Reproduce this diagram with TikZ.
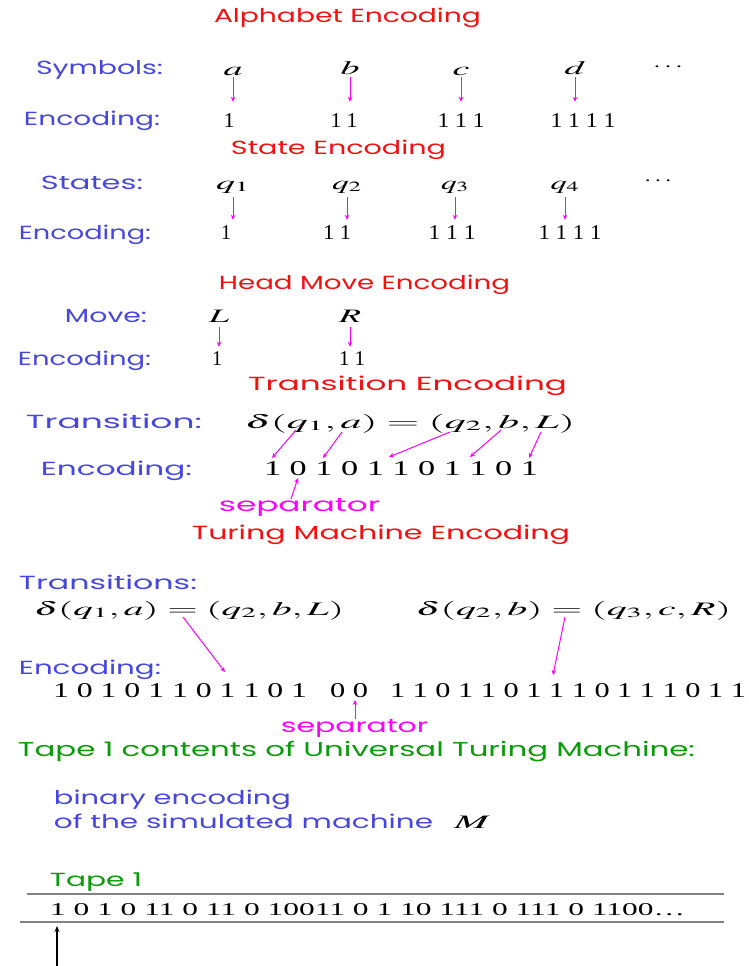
\documentclass[tikz,border=0pt]{standalone}
\usepackage{mathptmx}
\usepackage{fontspec}
\setmainfont{Liberation Serif}
\newfontfamily\labfont{Poppins}
\usepackage{graphicx}
\usetikzlibrary{arrows.meta}
\definecolor{labblue}{RGB}{70,70,225}
\definecolor{ttlred}{RGB}{245,15,15}
\definecolor{mag}{RGB}{255,0,255}
\definecolor{grn}{RGB}{10,155,10}
\definecolor{tapegray}{RGB}{130,130,130}
\newcommand\fitw[2]{\resizebox{#1pt}{\height}{#2}}
\tikzset{
  lab/.style={font=\labfont\fontsize{19}{19}\selectfont, text=labblue, inner sep=0pt, text height=14pt, text depth=0pt},
  ttl/.style={lab, text=ttlred},
  sep/.style={lab, text=mag, text height=10pt},
  glab/.style={lab, text=grn, font=\labfont\fontsize{20}{20}\selectfont},
  mth/.style={font=\fontsize{19}{19}\selectfont, inner sep=0pt, text height=14pt, text depth=0pt},
  bits/.style={font=\fontsize{21}{21}\selectfont, inner sep=0pt, text height=14pt, text depth=0pt},
  tapetxt/.style={font=\fontsize{18}{18}\selectfont, inner sep=0pt, text height=12pt, text depth=0pt},
  marr/.style={draw=mag, line width=1pt, -{Stealth[length=5pt,width=4.5pt]}},
  karr/.style={draw=black, line width=1.1pt, -{Stealth[length=6pt,width=5pt]}},
  tline/.style={draw=tapegray, line width=1.6pt}
}
\begin{document}
\begin{tikzpicture}[x=1pt,y=-1pt]
\useasboundingbox (0,0) rectangle (749,966);
% ---- Alphabet encoding
\node[ttl] (t1) at (347.5,16) {\fitw{267}{Alphabet Encoding}};
\node[lab] (sym) at (99.5,68) {\fitw{127}{Symbols:}};
\node[lab] (enc1) at (92,118) {\fitw{136}{Encoding:}};
\node[mth] (sa) at (233,68) {\fitw{19}{$a$}};
\node[mth] (sb) at (350,68) {\fitw{19}{$b$}};
\node[mth] (sc) at (461,68) {\fitw{17}{$c$}};
\node[mth] (sd) at (575,68) {\fitw{21}{$d$}};
\node[mth] (sdots) at (668,65) {\fitw{30}{$\cdots$}};
\node[bits] (ea) at (229,120) {\fitw{11}{1}};
\node[bits] (eb) at (344,120) {\fitw{27}{1 1}};
\node[bits] (ec) at (461,120) {\fitw{47}{1 1 1}};
\node[bits] (ed) at (583,120) {\fitw{65}{1 1 1 1}};
\foreach \s/\e in {sa/ea,sb/eb,sc/ec,sd/ed}
  \draw[marr, shorten <=2pt, shorten >=11pt] (\s.south) -- (\s.south |- \e.north);
% ---- State encoding
\node[ttl] (t2) at (338.5,147) {\fitw{215}{State Encoding}};
\node[lab] (sts) at (92,182) {\fitw{102}{States:}};
\node[lab] (enc2) at (85,232) {\fitw{132}{Encoding:}};
\node[mth] (q1) at (233,182) {\fitw{34}{$q_1$}};
\node[mth] (q2) at (347,182) {\fitw{30}{$q_2$}};
\node[mth] (q3) at (455,182) {\fitw{28}{$q_3$}};
\node[mth] (q4) at (565,182) {\fitw{29}{$q_4$}};
\node[mth] (qdots) at (658,178) {\fitw{28}{$\cdots$}};
\node[bits] (f1) at (226,232) {\fitw{10}{1}};
\node[bits] (f2) at (337,232) {\fitw{28}{1 1}};
\node[bits] (f3) at (452,232) {\fitw{47}{1 1 1}};
\node[bits] (f4) at (570,232) {\fitw{63}{1 1 1 1}};
\foreach \s/\e in {q1/f1,q2/f2,q3/f3,q4/f4}
  \draw[marr, shorten <=8pt, shorten >=5pt] (\s.south) -- (\s.south |- \e.north);
% ---- Head move encoding
\node[ttl] (t3) at (364.5,282) {\fitw{291}{Head Move Encoding}};
\node[lab] (mv) at (106,315) {\fitw{82}{Move:}};
\node[lab] (enc3) at (84.5,358) {\fitw{133}{Encoding:}};
\node[mth] (mL) at (219,315) {\fitw{20}{$L$}};
\node[mth] (mR) at (350,315) {\fitw{22}{$R$}};
\node[bits] (gL) at (217,358) {\fitw{10}{1}};
\node[bits] (gR) at (352,358) {\fitw{26}{1 1}};
\foreach \s/\e in {mL/gL,mR/gR}
  \draw[marr, shorten <=5pt, shorten >=4pt] (\s.south) -- (\s.south |- \e.north);
% ---- Transition encoding
\node[ttl] (t4) at (407.5,383) {\fitw{319}{Transition Encoding}};
\node[lab] (tr) at (114,421) {\fitw{176}{Transition:}};
\node[mth] (tf) at (410,421) {\fitw{330}{$\delta(q_1,a)=(q_2,b,L)$}};
\node[lab] (enc4) at (116.5,468) {\fitw{151}{Encoding:}};
\node[bits] (tb) at (401,468) {\fitw{274}{1 0 1 0 1 1 0 1 1 0 1}};
\node[sep] (sep1) at (299.5,506) {\fitw{161}{separator}};
\coordinate (p1s) at (296,430); \coordinate (p1e) at (272,458);
\coordinate (p2s) at (342,432); \coordinate (p2e) at (323,458);
\coordinate (p3s) at (450,432); \coordinate (p3e) at (389,457);
\coordinate (p4s) at (501,430); \coordinate (p4e) at (470,457);
\coordinate (p5s) at (541,432); \coordinate (p5e) at (529,458);
\foreach \i in {1,...,5} \draw[marr] (p\i s) -- (p\i e);
\coordinate (s1b) at (291,499);
\coordinate (s1t) at (298,478);
\draw[marr] (s1b) -- (s1t);
% ---- Turing machine encoding
\node[ttl] (t5) at (381,532) {\fitw{378}{Turing Machine Encoding}};
\node[lab] (trs) at (108,582) {\fitw{178}{Transitions:}};
\node[mth] (tf1) at (189,608) {\fitw{310}{$\delta(q_1,a)=(q_2,b,L)$}};
\node[mth] (tf2) at (573.5,608) {\fitw{315}{$\delta(q_2,b)=(q_3,c,R)$}};
\node[lab] (enc5) at (90,667) {\fitw{142}{Encoding:}};
\node[bits] (g1) at (180,690) {\fitw{254}{1 0 1 0 1 1 0 1 1 0 1}};
\node[bits] (g2) at (349,690) {\fitw{38}{0 0}};
\node[bits] (g3) at (568,690) {\fitw{356}{1 1 0 1 1 0 1 1 1 0 1 1 1 0 1 1}};
\coordinate (u1s) at (183,617); \coordinate (u1e) at (225,672);
\coordinate (u2s) at (565,617); \coordinate (u2e) at (553,675);
\draw[marr] (u1s) -- (u1e);
\draw[marr] (u2s) -- (u2e);
\node[sep] (sep2) at (354.5,727) {\fitw{147}{separator}};
\coordinate (s2b) at (355,719);
\coordinate (s2t) at (355,700);
\draw[marr] (s2b) -- (s2t);
% ---- Tape 1
\node[glab] (tc) at (356.5,749) {\fitw{677}{Tape 1 contents of Universal Turing Machine:}};
\node[lab] (be) at (172.5,797) {\fitw{237}{binary encoding}};
\node[lab] (sm) at (243.5,821) {\fitw{379}{of the simulated machine}};
\node[mth] (mM) at (472,821) {\fitw{36}{$M$}};
\node[glab, font=\labfont\fontsize{19}{19}\selectfont] (tp) at (96,879) {\fitw{92}{Tape 1}};
\coordinate (l1a) at (27,894); \coordinate (l1b) at (724,894);
\coordinate (l2a) at (20,922); \coordinate (l2b) at (724,922);
\draw[tline] (l1a) -- (l1b);
\draw[tline] (l2a) -- (l2b);
\node[tapetxt] (tape) at (367.5,909) {\fitw{635}{1 0 1 0 11 0 11 0 10011 0 1 10 111 0 111 0 1100\dots}};
\coordinate (hb) at (57,966); \coordinate (ht) at (57,926);
\draw[karr] (hb) -- (ht);
\end{tikzpicture}
\end{document}
